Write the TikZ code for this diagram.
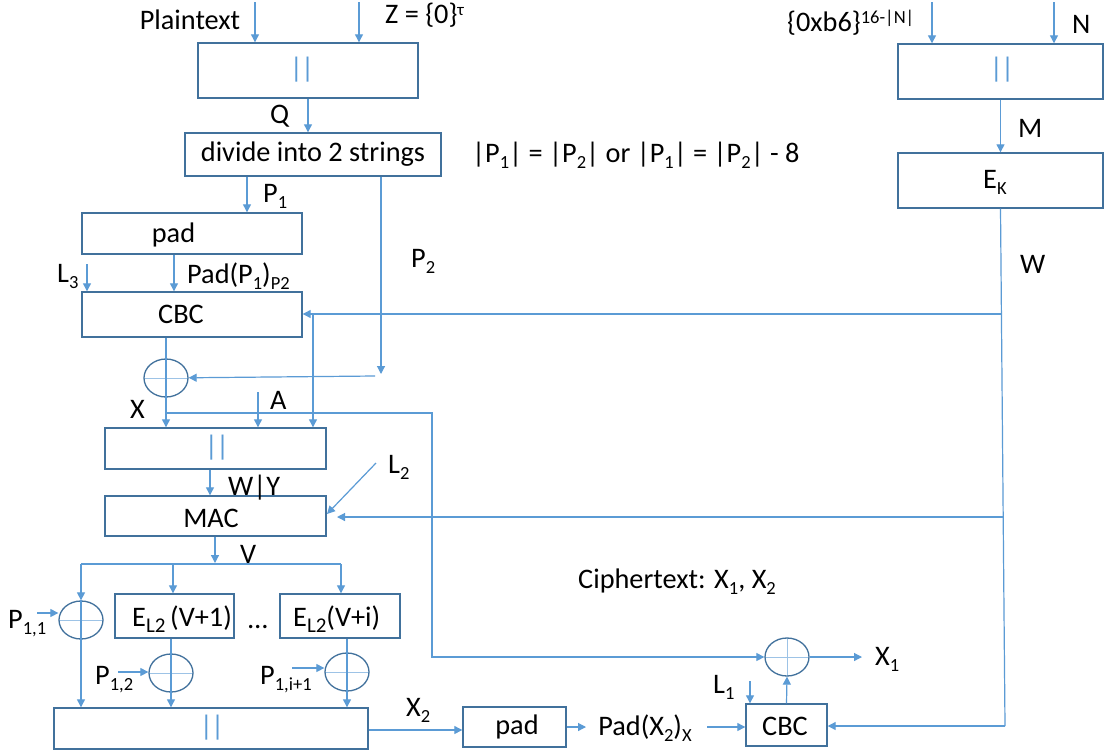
\documentclass[tikz,border=0pt]{standalone}
\usepackage{fontspec}
\setmainfont{Carlito}
\usetikzlibrary{arrows.meta,shapes.geometric}
\definecolor{lnblue}{HTML}{5B9BD5}
\definecolor{bxblue}{HTML}{41719C}
\definecolor{ltblue}{HTML}{9DC3E6}
\newcommand\mysub[2][18.5]{\raisebox{-6pt}{\fontsize{#1}{#1}\selectfont #2}}
\newcommand\mysup[2][18.5]{\raisebox{8pt}{\fontsize{#1}{#1}\selectfont #2}}
\begin{document}
\begin{tikzpicture}[x=1pt,y=-1pt,font=\fontsize{28.3}{34}\selectfont,
  box/.style={draw=bxblue,line width=1.4pt,inner sep=0pt},
  ar/.style={draw=lnblue,line width=1.2pt,-{Triangle[length=8pt,width=8pt]}},
  ln/.style={draw=lnblue,line width=1.2pt},
  xo/.style={ellipse,draw=bxblue,line width=1.3pt,minimum width=44pt,minimum height=38pt,inner sep=0pt,
    path picture={\draw[ltblue,line width=1pt] (path picture bounding box.north) -- (path picture bounding box.south)
      (path picture bounding box.west) -- (path picture bounding box.east);}},
  lbl/.style={anchor=base west,inner sep=0pt},
  ctr/.style={anchor=base,inner sep=0pt},
  bars/.style={text=lnblue,inner sep=0pt}]
\fill[white] (0,0) rectangle (1113,755);
\useasboundingbox (0,0) rectangle (1113,755);
% boxes
\node[box,minimum width=220pt,minimum height=55pt] (cat1) at (308,70.5) {};
\node[bars] (cat1t) at (302,70) {|\kern-2pt|};
\node[box,minimum width=256pt,minimum height=43pt] (div) at (313,154.5) {divide into 2 strings};
\node[box,minimum width=220pt,minimum height=41pt] (pad1) at (192,233.5) {};
\node[ctr] (pad1t) at (173.5,242) {pad};
\node[box,minimum width=220pt,minimum height=45pt] (cbc1) at (192,314.5) {};
\node[ctr] (cbc1t) at (181,323) {CBC};
\node[box,minimum width=221pt,minimum height=41pt] (cat2) at (215.5,448.5) {};
\node[bars] (cat2t) at (217,448) {|\kern-2pt|};
\node[box,minimum width=221pt,minimum height=40pt] (mac) at (215.5,516) {};
\node[ctr] (mact) at (211,527) {MAC};
\node[box,minimum width=119pt,minimum height=44pt] (e1) at (174.5,616) {};
\node[lbl] (e1t) at (132,626) {E\mysub[21]{L2}\,(V+1)};
\node[box,minimum width=120pt,minimum height=44pt] (ei) at (340,616) {};
\node[lbl] (eit) at (293,626) {E\mysub[21]{L2}(V+i)};
\node[box,minimum width=314pt,minimum height=41pt] (cat3) at (211,728.5) {};
\node[bars] (cat3t) at (212,728) {|\kern-2pt|};
\node[box,minimum width=103pt,minimum height=40pt] (pad2) at (514.5,727) {};
\node[ctr] (pad2t) at (517,734) {pad};
\node[box,minimum width=81pt,minimum height=42pt] (cbc2) at (786.5,725) {};
\node[ctr] (cbc2t) at (785,735) {CBC};
\node[box,minimum width=205pt,minimum height=55pt] (cat4) at (1000.5,71.5) {};
\node[bars] (cat4t) at (1002,70) {|\kern-2pt|};
\node[box,minimum width=205pt,minimum height=55pt] (ek) at (1000.5,180.5) {};
\node[lbl] (ekt) at (983,188) {E\mysub{K}};
% xor circles
\node[xo] (c1) at (166,378) {};
\node[xo] (c11) at (81,620) {};
\node[xo] (c12) at (171,673) {};
\node[xo] (c1i) at (347,672) {};
\node[xo] (c4) at (787,657) {};
% labels
\node[ctr] (plain) at (190,29) {Plaintext};
\node[lbl] (zl) at (385,23) {Z = \{0\}\mysup[17]{τ}};
\node[lbl] (ql) at (270,123) {Q};
\node[lbl] (cond) at (472,162) {|P\mysub{1}| = |P\mysub{2}| or |P\mysub{1}| = |P\mysub{2}| - 8};
\node[lbl] (p1l) at (263,202) {P\mysub{1}};
\node[lbl] (p2l) at (411,267) {P\mysub{2}};
\node[lbl] (l3l) at (57,282) {L\mysub{3}};
\node[lbl] (padp) at (187,283) {Pad(P\mysub{1})\mysub{P2}};
\node[lbl] (xl) at (130,418) {X};
\node[lbl] (al) at (270,409) {A};
\node[lbl] (wyl) at (228,495) {W|Y};
\node[lbl] (l2l) at (388,473) {L\mysub{2}};
\node[lbl] (vl) at (240,563) {V};
\node[lbl] (p11l) at (8,628) {P\mysub{1,1}};
\node[lbl] (dots) at (248,628) {…};
\node[lbl] (p12l) at (95,684) {P\mysub{1,2}};
\node[lbl] (p1il) at (260,684) {P\mysub{1,i+1}};
\node[lbl] (x2l) at (406,716) {X\mysub{2}};
\node[ctr] (padx) at (645,735) {Pad(X\mysub{2})\mysub{X}};
\node[lbl] (ciph) at (578,588) {Ciphertext: X\mysub{1}, X\mysub{2}};
\node[lbl] (x1l) at (875,665) {X\mysub{1}};
\node[lbl] (l1l) at (713,693) {L\mysub{1}};
\node[lbl] (ob6) at (787,31) {\{0xb6\}\mysup{16-|N|}};
\node[lbl] (nl) at (1072,33) {N};
\node[lbl] (ml) at (1018,137) {M};
\node[lbl] (wl) at (1020,273) {W};
% coordinates
\coordinate (ptop) at (255,2);
\coordinate (ztop) at (359,2);
\coordinate (p2e) at (381,374);
\coordinate (p2h) at (375,376);
\coordinate (l3s) at (87,264);
\coordinate (xb) at (166,413);
\coordinate (xc) at (432,413);
\coordinate (as) at (258,392);
\coordinate (wb) at (1005,726);
\coordinate (w1) at (1001,314);
\coordinate (w1b) at (313,314);
\coordinate (w2) at (1003,517);
\coordinate (w2e) at (337,517);
\coordinate (l2s) at (376,463);
\coordinate (l2e) at (327,514);
\coordinate (vb) at (215,563);
\coordinate (bl) at (81,564);
\coordinate (br) at (341,564);
\coordinate (bm) at (173,564);
\coordinate (p11s) at (37,613);
\coordinate (p12s) at (118,672);
\coordinate (p1is) at (292,668);
\coordinate (pxe) at (586,727);
\coordinate (pxs) at (707,727);
\coordinate (l1s) at (750,681);
\coordinate (x1e) at (862,657);
\coordinate (o1) at (932,2);
\coordinate (n1) at (1054,2);
% connectors
\draw[ar] (ptop) -- (ptop |- cat1.north);
\draw[ar] (ztop) -- (ztop |- cat1.north);
\draw[ar] (cat1.south) -- (cat1.south |- div.north);
\draw[ar] (247,0 |- div.south) -- (247,0 |- pad1.north);
\draw[ar] (381,0 |- div.south) -- (p2e);
\draw[ar] (p2h) -- (c1);
\draw[ar] (l3s) -- (l3s |- cbc1.north);
\draw[ar] (174,0 |- pad1.south) -- (174,0 |- cbc1.north);
\draw[ar] (cbc1.south -| c1) -- (cat2.north -| c1);
\draw[ar] (xb) -- (xc) -- (xc |- c4.west) -- (c4.west);
\draw[ar] (as) -- (as |- cat2.north);
\draw[ln] (ek.south) -- (wb);
\draw[ar] (wb) -- (wb -| cbc2.east);
\draw[ar] (w1) -- (w1 -| cbc1.east);
\draw[ar] (w1b) -- (w1b |- cat2.north);
\draw[ar] (w2) -- (w2e);
\draw[ar] (210,0 |- cat2.south) -- (210,0 |- mac.north);
\draw[ar] (l2s) -- (l2e);
\draw[ar] (215,0 |- mac.south) -- (vb);
\draw[ln] (bl) -- (br);
\draw[ar] (bl) -- (c11.north);
\draw[ar] (c11.north) -- (c11.north |- cat3.north);
\draw[ar] (bm) -- (bm |- e1.north);
\draw[ar] (br) -- (br |- ei.north);
\draw[ar] (p11s) -- (p11s -| c11.west);
\draw[ar] (e1.south -| c12) -- (c12 |- cat3.north);
\draw[ar] (p12s) -- (p12s -| c12.west);
\draw[ar] (ei.south -| c1i) -- (c1i |- cat3.north);
\draw[ar] (p1is) -- (p1is -| c1i.west);
\draw[ar] (cat3.east |- 0,730) -- (pad2.west |- 0,730);
\draw[ar] (pad2.east) -- (pxe);
\draw[ar] (pxs) -- (pxs -| cbc2.west);
\draw[ar] (l1s) -- (l1s |- cbc2.north);
\draw[ar] (cbc2.north) -- (c4.south);
\draw[ar] (c4.east) -- (x1e);
\draw[ar] (o1) -- (o1 |- cat4.north);
\draw[ar] (n1) -- (n1 |- cat4.north);
\draw[ar] (cat4.south) -- (ek.north);
\end{tikzpicture}
\end{document}
